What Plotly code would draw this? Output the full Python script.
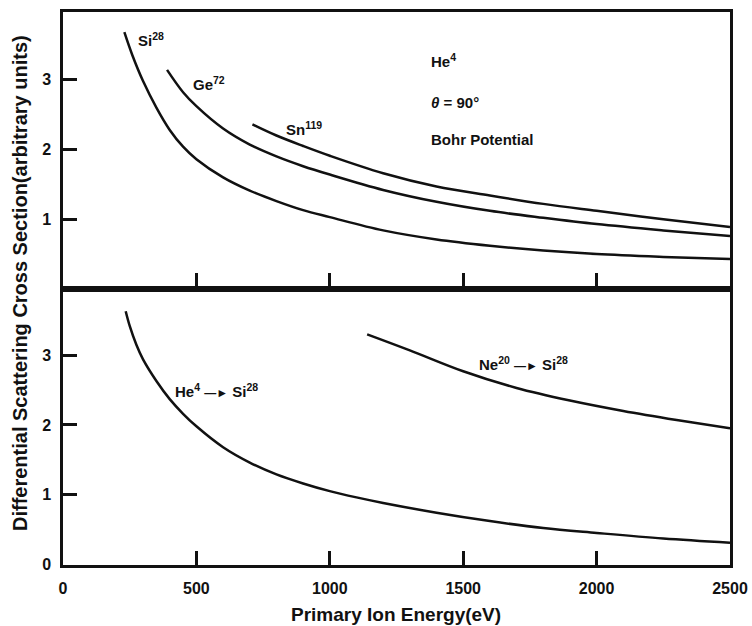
import plotly.graph_objects as go

# ---- data ----
si_E = [230, 260, 300, 350, 400, 450, 500, 600, 700, 800, 900, 1000, 1200, 1400, 1600, 1800, 2000, 2250, 2500]
si_v = [3.68, 3.35, 2.98, 2.60, 2.28, 2.04, 1.86, 1.60, 1.41, 1.26, 1.13, 1.03, 0.84, 0.71, 0.62, 0.55, 0.50, 0.46, 0.43]

ge_E = [390, 450, 500, 600, 700, 800, 900, 1000, 1200, 1400, 1600, 1800, 2000, 2250, 2500]
ge_v = [3.14, 2.82, 2.62, 2.30, 2.07, 1.90, 1.76, 1.64, 1.42, 1.25, 1.12, 1.02, 0.93, 0.84, 0.76]

sn_E = [710, 800, 900, 1000, 1200, 1400, 1600, 1800, 2000, 2250, 2500]
sn_v = [2.36, 2.20, 2.05, 1.91, 1.66, 1.47, 1.34, 1.22, 1.12, 1.00, 0.89]

he_si_E = [235, 250, 275, 300, 350, 400, 450, 500, 600, 700, 800, 900, 1000, 1100, 1200, 1400, 1600, 1800, 2000, 2250, 2500]
he_si_v = [3.63, 3.42, 3.15, 2.94, 2.63, 2.37, 2.16, 1.98, 1.68, 1.46, 1.29, 1.16, 1.05, 0.96, 0.88, 0.74, 0.62, 0.52, 0.45, 0.37, 0.31]

ne_si_E = [1140, 1300, 1500, 1700, 1900, 2100, 2300, 2500]
ne_si_v = [3.30, 3.07, 2.77, 2.53, 2.35, 2.20, 2.07, 1.95]

x_tickvals = [0, 500, 1000, 1500, 2000, 2500]
x_ticktext = ["0", "500", "1000", "1500", "2000", "2500"]
top_y_ticks = [1, 2, 3]
bot_y_ticks = [0, 1, 2, 3]

FONT = "Liberation Sans, Arial, Helvetica, sans-serif"
INK = "#111111"
LW = 2.5

fig = go.Figure()

def curve(x, y, xa, ya):
    fig.add_trace(go.Scatter(x=x, y=y, mode="lines", xaxis=xa, yaxis=ya,
                             line=dict(color=INK, width=LW, shape="spline", smoothing=1.0),
                             showlegend=False, hoverinfo="skip"))

curve(si_E, si_v, "x", "y")
curve(ge_E, ge_v, "x", "y")
curve(sn_E, sn_v, "x", "y")
curve(he_si_E, he_si_v, "x2", "y2")
curve(ne_si_E, ne_si_v, "x2", "y2")

split = (565 - 289) / 553

axis_common = dict(showline=True, linecolor=INK, linewidth=LW, mirror=True,
                   ticks="inside", tickcolor=INK, tickwidth=2.5, showgrid=False,
                   zeroline=False, automargin=False, ticklabeloverflow="allow",
                   tickfont=dict(size=16, color=INK, family=FONT, weight="bold"))

fig.update_layout(
    width=752, height=626,
    margin=dict(l=63, r=22, t=12, b=61, autoexpand=False),
    paper_bgcolor="white", plot_bgcolor="white",
    font=dict(family=FONT, color=INK, weight="bold"),
    xaxis=dict(axis_common, domain=[0, 1], anchor="y", range=[0, 2500],
               tickvals=[500, 1000, 1500, 2000], showticklabels=False, ticklen=16),
    yaxis=dict(axis_common, domain=[split, 1], anchor="x", range=[0, 3.97],
               tickvals=top_y_ticks, ticklen=14, ticklabelstandoff=6),
    xaxis2=dict(axis_common, domain=[0, 1], anchor="y2", range=[0, 2500],
                tickvals=x_tickvals, ticktext=x_ticktext, ticklen=14, ticklabelstandoff=7),
    yaxis2=dict(axis_common, domain=[0, split], anchor="x2", range=[-0.01, 3.95],
                tickvals=bot_y_ticks, ticklen=14, ticklabelstandoff=6),
)

def label(text, x, y, xr, yr, size=15):
    fig.add_annotation(text=text, x=x, y=y, xref=xr, yref=yr, showarrow=False,
                       xanchor="left", yanchor="middle",
                       font=dict(size=size, family=FONT, color=INK, weight="bold"))

ARROW = " <span style='font-size:12px'>—►</span> "
label("Si<sup>28</sup>", 272, 3.58, "x", "y")
label("Ge<sup>72</sup>", 478, 2.94, "x", "y")
label("Sn<sup>119</sup>", 830, 2.30, "x", "y")
label("He<sup>4</sup>", 1372, 3.27, "x", "y")
label("<i>θ</i> = 90°", 1372, 2.68, "x", "y")
label("Bohr Potential", 1372, 2.14, "x", "y")
label("He<sup>4</sup>" + ARROW + "Si<sup>28</sup>", 414, 2.50, "x2", "y2")
label("Ne<sup>20</sup>" + ARROW + "Si<sup>28</sup>", 1552, 2.88, "x2", "y2")

fig.add_annotation(text="Differential Scattering Cross Section(arbitrary units)",
                   x=(20 - 63) / 667, y=(565 - 283) / 553, xref="paper", yref="paper",
                   textangle=-90, showarrow=False, xanchor="center", yanchor="middle",
                   font=dict(size=20, family=FONT, color=INK, weight="bold"))
fig.add_annotation(text="Primary Ion Energy(eV)",
                   x=(396 - 63) / 667, y=(565 - 614) / 553, xref="paper", yref="paper",
                   showarrow=False, xanchor="center", yanchor="middle",
                   font=dict(size=19, family=FONT, color=INK, weight="bold"))

fig.write_html("out.html")
